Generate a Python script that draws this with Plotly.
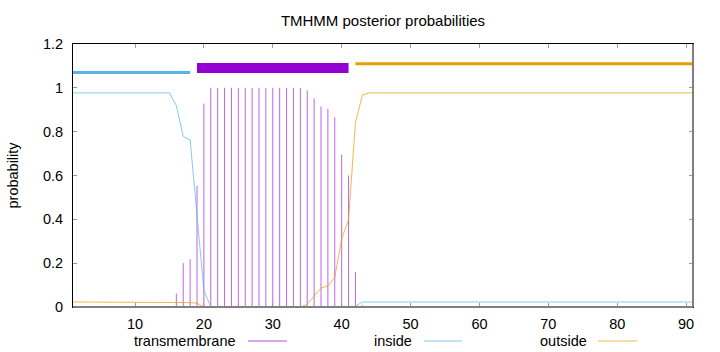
import plotly.graph_objects as go

# ---------------- data ----------------
positions = list(range(1, 92))

inside = [
    0.977, 0.977, 0.977, 0.977, 0.977, 0.977, 0.977, 0.977, 0.977, 0.977,   # 1-10
    0.977, 0.977, 0.977, 0.977, 0.977, 0.919, 0.778, 0.763, 0.420, 0.076,   # 11-20
    0.0, 0.0, 0.0, 0.0, 0.0, 0.0, 0.0, 0.0, 0.0, 0.0,                       # 21-30
    0.0, 0.0, 0.0, 0.0, 0.0, 0.0, 0.0, 0.0, 0.0, 0.0,                       # 31-40
    0.0, 0.003, 0.023, 0.023, 0.023, 0.023, 0.023, 0.023, 0.023, 0.023,     # 41-50
    0.023, 0.023, 0.023, 0.023, 0.023, 0.023, 0.023, 0.023, 0.023, 0.023,   # 51-60
    0.023, 0.023, 0.023, 0.023, 0.023, 0.023, 0.023, 0.023, 0.023, 0.023,   # 61-70
    0.023, 0.023, 0.023, 0.023, 0.023, 0.023, 0.023, 0.023, 0.023, 0.023,   # 71-80
    0.023, 0.023, 0.023, 0.023, 0.023, 0.023, 0.023, 0.023, 0.023, 0.023,   # 81-90
    0.023,                                                                  # 91
]

outside = [
    0.023, 0.023, 0.023, 0.023, 0.023, 0.023, 0.023, 0.023, 0.023, 0.023,   # 1-10
    0.023, 0.023, 0.023, 0.023, 0.021, 0.020, 0.020, 0.020, 0.017, 0.0,     # 11-20
    0.0, 0.0, 0.0, 0.0, 0.0, 0.0, 0.0, 0.0, 0.0, 0.0,                       # 21-30
    0.0, 0.0, 0.0, 0.0, 0.012, 0.049, 0.087, 0.095, 0.136, 0.31,            # 31-40
    0.40, 0.84, 0.967, 0.977, 0.977, 0.977, 0.977, 0.977, 0.977, 0.977,     # 41-50
    0.977, 0.977, 0.977, 0.977, 0.977, 0.977, 0.977, 0.977, 0.977, 0.977,   # 51-60
    0.977, 0.977, 0.977, 0.977, 0.977, 0.977, 0.977, 0.977, 0.977, 0.977,   # 61-70
    0.977, 0.977, 0.977, 0.977, 0.977, 0.977, 0.977, 0.977, 0.977, 0.977,   # 71-80
    0.977, 0.977, 0.977, 0.977, 0.977, 0.977, 0.977, 0.977, 0.977, 0.977,   # 81-90
    0.977,                                                                  # 91
]

transmembrane = [
    0.0, 0.0, 0.0, 0.0, 0.0, 0.0, 0.0, 0.0, 0.0, 0.0,                       # 1-10
    0.0, 0.0, 0.0, 0.0, 0.0, 0.061, 0.200, 0.218, 0.553, 0.928,             # 11-20
    1.0, 1.0, 1.0, 1.0, 1.0, 1.0, 1.0, 1.0, 1.0, 1.0,                       # 21-30
    1.0, 1.0, 1.0, 1.0, 0.988, 0.951, 0.915, 0.905, 0.865, 0.695,           # 31-40
    0.600, 0.159, 0.008, 0.0, 0.0, 0.0, 0.0, 0.0, 0.0, 0.0,                 # 41-50
    0.0, 0.0, 0.0, 0.0, 0.0, 0.0, 0.0, 0.0, 0.0, 0.0,                       # 51-60
    0.0, 0.0, 0.0, 0.0, 0.0, 0.0, 0.0, 0.0, 0.0, 0.0,                       # 61-70
    0.0, 0.0, 0.0, 0.0, 0.0, 0.0, 0.0, 0.0, 0.0, 0.0,                       # 71-80
    0.0, 0.0, 0.0, 0.0, 0.0, 0.0, 0.0, 0.0, 0.0, 0.0,                       # 81-90
    0.0,                                                                    # 91
]

# predicted topology segments (start, end)
inside_region = [1, 18]
tm_region = [19, 41]
outside_region = [42, 91]
region_levels = {"inside": 1.07, "tm": 1.09, "outside": 1.11}

x_ticks = [10, 20, 30, 40, 50, 60, 70, 80, 90]
y_ticks = [0, 0.2, 0.4, 0.6, 0.8, 1.0, 1.2]
y_tick_labels = ["0", "0.2", "0.4", "0.6", "0.8", "1", "1.2"]

legend_names = ["transmembrane", "inside", "outside"]

# ---------------- style ----------------
C_TM = "#9400D3"
C_IN = "#56B4E9"
C_OUT = "#E69F00"
FONT = "Liberation Sans, Arial, sans-serif"
FS = 14.5

W, H = 720, 352
ML, MR, MT, MB = 73, 27, 44, 45
PW, PH = W - ML - MR, H - MT - MB


def px_x(px):
    return (px - ML) / PW


def px_y(py):
    return (H - MB - py) / PH


fig = go.Figure()

# impulses for transmembrane
imp_x, imp_y = [], []
for p, v in zip(positions, transmembrane):
    if v > 0:
        imp_x += [p, p, None]
        imp_y += [0, v, None]
fig.add_trace(go.Scatter(x=imp_x, y=imp_y, mode="lines",
                         line=dict(color=C_TM, width=1), opacity=0.6,
                         showlegend=False, hoverinfo="skip"))

fig.add_trace(go.Scatter(x=positions, y=inside, mode="lines",
                         line=dict(color=C_IN, width=1), opacity=0.7,
                         showlegend=False))
fig.add_trace(go.Scatter(x=positions, y=outside, mode="lines",
                         line=dict(color=C_OUT, width=1), opacity=0.7,
                         showlegend=False))

# topology bars
fig.add_trace(go.Scatter(x=inside_region, y=[region_levels["inside"]] * 2, mode="lines",
                         line=dict(color=C_IN, width=3), showlegend=False))
fig.add_trace(go.Scatter(x=tm_region, y=[region_levels["tm"]] * 2, mode="lines",
                         line=dict(color=C_TM, width=10), showlegend=False))
fig.add_trace(go.Scatter(x=outside_region, y=[region_levels["outside"]] * 2, mode="lines",
                         line=dict(color=C_OUT, width=3), showlegend=False))

shapes = []
# gray bottom and right borders
shapes.append(dict(type="line", xref="paper", yref="paper", x0=0, x1=1, y0=0, y1=0,
                   line=dict(color="#808080", width=2), layer="above"))
shapes.append(dict(type="line", xref="paper", yref="paper", x0=1, x1=1, y0=0, y1=1,
                   line=dict(color="#808080", width=2), layer="above"))

annotations = []
# custom gnuplot-like legend: text, then sample line
legend_items = [
    (legend_names[0], 238, 248, 287, C_TM),
    (legend_names[1], 414, 424, 462, C_IN),
    (legend_names[2], 589, 598, 637, C_OUT),
]
for name, text_end, l0, l1, col in legend_items:
    annotations.append(dict(text=name, xref="paper", yref="paper",
                            x=px_x(text_end), y=px_y(341), xanchor="right", yanchor="middle",
                            showarrow=False, font=dict(family=FONT, size=FS, color="#000")))
    shapes.append(dict(type="line", xref="paper", yref="paper",
                       x0=px_x(l0), x1=px_x(l1), y0=px_y(341), y1=px_y(341),
                       line=dict(color=col, width=1), opacity=0.7))

annotations.append(dict(text="probability", xref="paper", yref="paper",
                        x=px_x(12), y=0.5, xanchor="center", yanchor="middle",
                        textangle=-90, showarrow=False,
                        font=dict(family=FONT, size=FS, color="#000")))

fig.update_layout(
    width=W, height=H,
    margin=dict(l=ML, r=MR, t=MT, b=MB),
    paper_bgcolor="white", plot_bgcolor="white",
    font=dict(family=FONT, size=FS, color="#000"),
    title=dict(text="TMHMM posterior probabilities", x=0.5, xref="paper",
               y=1 - 21 / H, yref="container", xanchor="center", yanchor="middle",
               font=dict(family=FONT, size=15, color="#000")),
    showlegend=False,
    shapes=shapes,
    annotations=annotations,
)
fig.update_xaxes(range=[1, 91], tickvals=x_ticks, ticks="inside", ticklen=4,
                 tickcolor="#999", showgrid=False, zeroline=False,
                 showline=True, linecolor="#000", linewidth=1, mirror="ticks",
                 ticklabelstandoff=4)
fig.update_yaxes(range=[0, 1.2], tickvals=y_ticks, ticktext=y_tick_labels,
                 ticks="inside", ticklen=4, tickcolor="#999", showgrid=False,
                 zeroline=False, showline=True, linecolor="#000", linewidth=1,
                 mirror="ticks", ticklabelstandoff=6)

fig.write_html("out.html")
